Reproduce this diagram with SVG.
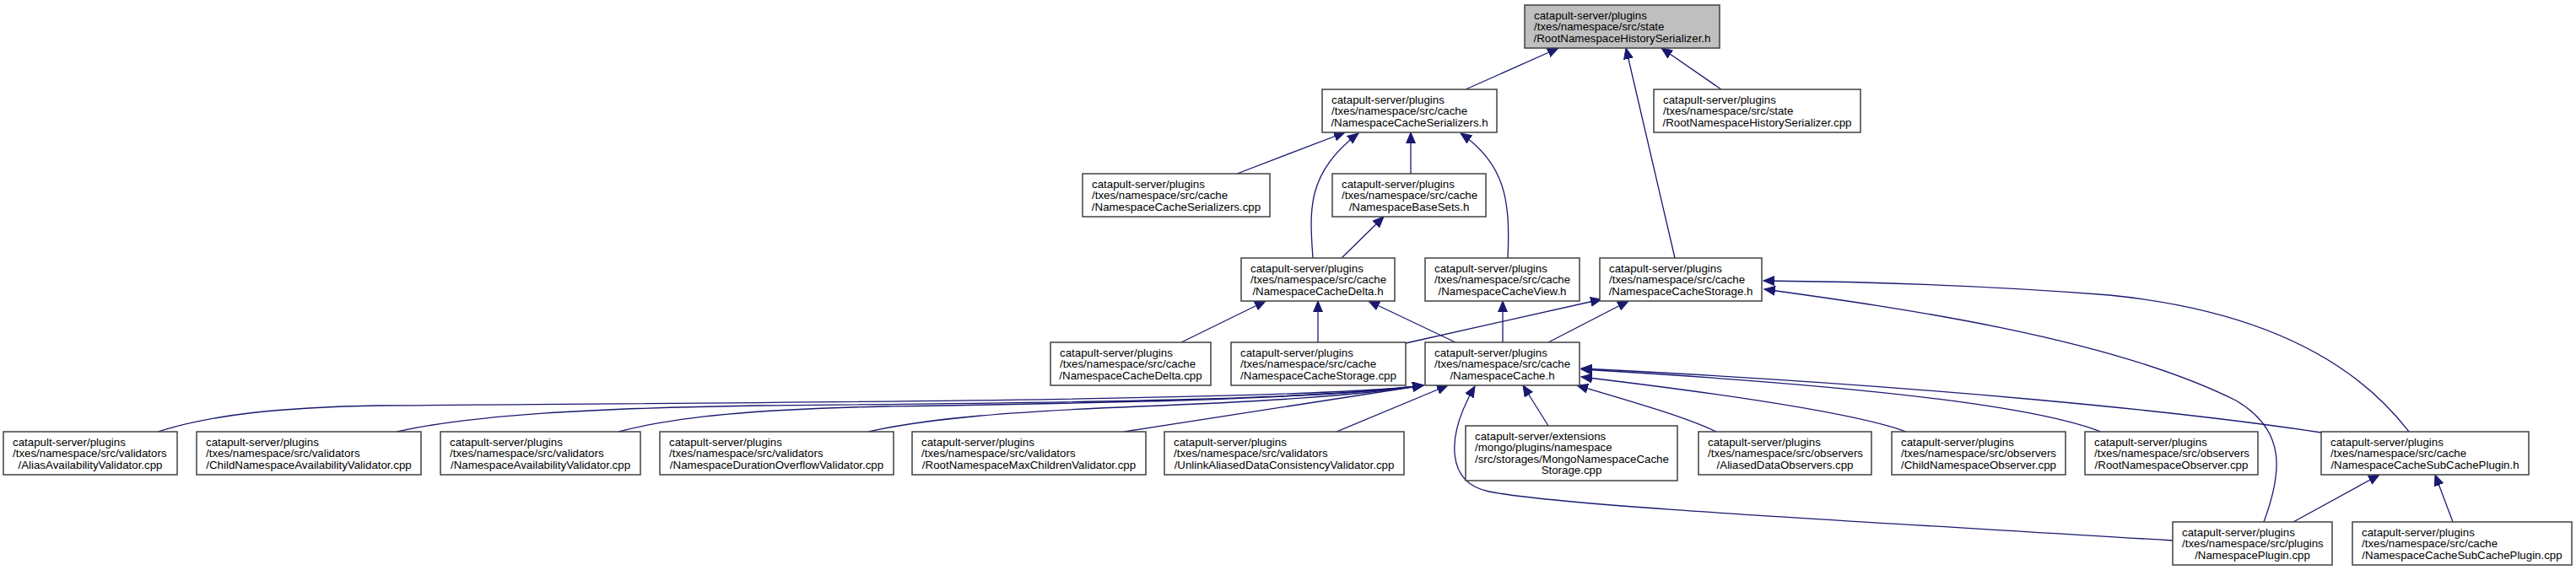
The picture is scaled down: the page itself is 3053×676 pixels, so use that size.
<svg xmlns="http://www.w3.org/2000/svg" width="3053" height="676" viewBox="0 0 3053 676">
<style>
.n rect{fill:#ffffff;stroke:#404040;stroke-width:1.5}
.n.root rect{fill:#bfbfbf}
text{font-family:"Liberation Sans",Arial,Helvetica,sans-serif;font-size:13.3px;fill:#000}
.m{text-anchor:middle}
.e path{fill:none;stroke:#191970;stroke-width:1.3;marker-end:url(#ah)}
</style>
<defs>
<marker id="ah" markerUnits="userSpaceOnUse" markerWidth="14" markerHeight="12" refX="13" refY="6" orient="auto">
<path d="M0,0.5 L13,6 L0,11.5 Z" fill="#191970" stroke="#191970" stroke-width="1"/>
</marker>
</defs>
<rect x="0" y="0" width="3053" height="676" fill="#ffffff"/>
<g id="edges" class="e">
<path d="M1737,106 L1847,57"/>
<path d="M1985,306 L1927,57"/>
<path d="M2040,106 L1969,57"/>
<path d="M1466,206 L1594,157"/>
<path d="M1556,306 C1552,250 1548,205 1610,158"/>
<path d="M1672,206 L1672,157"/>
<path d="M1787,306 C1790,240 1785,195 1731,158"/>
<path d="M1590,306 L1640,257"/>
<path d="M1400,406 L1500,357"/>
<path d="M1562,406 L1562,357"/>
<path d="M1725,406 L1622,357"/>
<path d="M1781,406 L1781,357"/>
<path d="M1666,407 L1898,355"/>
<path d="M1835,406 L1930,357"/>
<path d="M2855,512 C2800,440 2700,370 2500,350 C2350,338 2200,334 2090,333"/>
<path d="M2683,619 C2705,560 2710,510 2650,475 C2500,400 2250,365 2091,343"/>
<path d="M187,512 C250,492 330,483 450,481 C800,478 1550,476 1687,457"/>
<path d="M470,512 C560,492 700,484 900,481 C1200,478 1550,476 1687,457"/>
<path d="M733,512 C800,494 900,485 1050,482 C1300,478 1560,474 1687,457"/>
<path d="M1029,512 C1100,496 1200,488 1350,482 C1500,476 1600,470 1687,457"/>
<path d="M1332,512 L1687,457"/>
<path d="M1584,512 L1716,457"/>
<path d="M2575,641 C2200,618 1850,600 1765,583 C1715,573 1712,520 1748,458"/>
<path d="M1835,505 L1805,457"/>
<path d="M2034,512 C2000,495 1930,475 1869,457"/>
<path d="M2259,512 C2200,490 2050,468 1874,447"/>
<path d="M2490,512 C2420,485 2250,460 1874,438"/>
<path d="M2751,513 C2600,490 2300,458 1874,437"/>
<path d="M2718,619 L2820,563"/>
<path d="M2907,619 L2886,563"/>
</g>
<g id="n0" class="n root"><rect x="1807" y="6" width="231" height="51"/><text x="1818" y="22.5">catapult-server/plugins</text><text x="1818" y="36">/txes/namespace/src/state</text><text class="m" x="1922.5" y="49.5">/RootNamespaceHistorySerializer.h</text></g>
<g id="n1" class="n"><rect x="1567" y="106" width="207" height="51"/><text x="1578" y="122.5">catapult-server/plugins</text><text x="1578" y="136">/txes/namespace/src/cache</text><text class="m" x="1670.5" y="149.5">/NamespaceCacheSerializers.h</text></g>
<g id="n2" class="n"><rect x="1960" y="106" width="245" height="51"/><text x="1971" y="122.5">catapult-server/plugins</text><text x="1971" y="136">/txes/namespace/src/state</text><text class="m" x="2082.5" y="149.5">/RootNamespaceHistorySerializer.cpp</text></g>
<g id="n3" class="n"><rect x="1283" y="206" width="222" height="51"/><text x="1294" y="222.5">catapult-server/plugins</text><text x="1294" y="236">/txes/namespace/src/cache</text><text class="m" x="1394" y="249.5">/NamespaceCacheSerializers.cpp</text></g>
<g id="n4" class="n"><rect x="1579" y="206" width="182" height="51"/><text x="1590" y="222.5">catapult-server/plugins</text><text x="1590" y="236">/txes/namespace/src/cache</text><text class="m" x="1670" y="249.5">/NamespaceBaseSets.h</text></g>
<g id="n5" class="n"><rect x="1471" y="306" width="182" height="51"/><text x="1482" y="322.5">catapult-server/plugins</text><text x="1482" y="336">/txes/namespace/src/cache</text><text class="m" x="1562" y="349.5">/NamespaceCacheDelta.h</text></g>
<g id="n6" class="n"><rect x="1689" y="306" width="183" height="51"/><text x="1700" y="322.5">catapult-server/plugins</text><text x="1700" y="336">/txes/namespace/src/cache</text><text class="m" x="1780.5" y="349.5">/NamespaceCacheView.h</text></g>
<g id="n7" class="n"><rect x="1896" y="306" width="192" height="51"/><text x="1907" y="322.5">catapult-server/plugins</text><text x="1907" y="336">/txes/namespace/src/cache</text><text class="m" x="1992" y="349.5">/NamespaceCacheStorage.h</text></g>
<g id="n8" class="n"><rect x="1245" y="406" width="190" height="51"/><text x="1256" y="422.5">catapult-server/plugins</text><text x="1256" y="436">/txes/namespace/src/cache</text><text class="m" x="1340" y="449.5">/NamespaceCacheDelta.cpp</text></g>
<g id="n9" class="n"><rect x="1459" y="406" width="207" height="51"/><text x="1470" y="422.5">catapult-server/plugins</text><text x="1470" y="436">/txes/namespace/src/cache</text><text class="m" x="1562.5" y="449.5">/NamespaceCacheStorage.cpp</text></g>
<g id="n10" class="n"><rect x="1689" y="406" width="183" height="51"/><text x="1700" y="422.5">catapult-server/plugins</text><text x="1700" y="436">/txes/namespace/src/cache</text><text class="m" x="1780.5" y="449.5">/NamespaceCache.h</text></g>
<g id="n11" class="n"><rect x="4" y="512" width="206" height="51"/><text x="15" y="528.5">catapult-server/plugins</text><text x="15" y="542">/txes/namespace/src/validators</text><text class="m" x="107" y="555.5">/AliasAvailabilityValidator.cpp</text></g>
<g id="n12" class="n"><rect x="233" y="512" width="266" height="51"/><text x="244" y="528.5">catapult-server/plugins</text><text x="244" y="542">/txes/namespace/src/validators</text><text class="m" x="366" y="555.5">/ChildNamespaceAvailabilityValidator.cpp</text></g>
<g id="n13" class="n"><rect x="522" y="512" width="237" height="51"/><text x="533" y="528.5">catapult-server/plugins</text><text x="533" y="542">/txes/namespace/src/validators</text><text class="m" x="640.5" y="555.5">/NamespaceAvailabilityValidator.cpp</text></g>
<g id="n14" class="n"><rect x="782" y="512" width="277" height="51"/><text x="793" y="528.5">catapult-server/plugins</text><text x="793" y="542">/txes/namespace/src/validators</text><text class="m" x="920.5" y="555.5">/NamespaceDurationOverflowValidator.cpp</text></g>
<g id="n15" class="n"><rect x="1081" y="512" width="277" height="51"/><text x="1092" y="528.5">catapult-server/plugins</text><text x="1092" y="542">/txes/namespace/src/validators</text><text class="m" x="1219.5" y="555.5">/RootNamespaceMaxChildrenValidator.cpp</text></g>
<g id="n16" class="n"><rect x="1380" y="512" width="284" height="51"/><text x="1391" y="528.5">catapult-server/plugins</text><text x="1391" y="542">/txes/namespace/src/validators</text><text class="m" x="1522" y="555.5">/UnlinkAliasedDataConsistencyValidator.cpp</text></g>
<g id="n17" class="n"><rect x="1737" y="505" width="251" height="65"/><text x="1748" y="521.5">catapult-server/extensions</text><text x="1748" y="535">/mongo/plugins/namespace</text><text x="1748" y="548.5">/src/storages/MongoNamespaceCache</text><text class="m" x="1862.5" y="562">Storage.cpp</text></g>
<g id="n18" class="n"><rect x="2013" y="512" width="205" height="51"/><text x="2024" y="528.5">catapult-server/plugins</text><text x="2024" y="542">/txes/namespace/src/observers</text><text class="m" x="2115.5" y="555.5">/AliasedDataObservers.cpp</text></g>
<g id="n19" class="n"><rect x="2242" y="512" width="206" height="51"/><text x="2253" y="528.5">catapult-server/plugins</text><text x="2253" y="542">/txes/namespace/src/observers</text><text class="m" x="2345" y="555.5">/ChildNamespaceObserver.cpp</text></g>
<g id="n20" class="n"><rect x="2471" y="512" width="205" height="51"/><text x="2482" y="528.5">catapult-server/plugins</text><text x="2482" y="542">/txes/namespace/src/observers</text><text class="m" x="2573.5" y="555.5">/RootNamespaceObserver.cpp</text></g>
<g id="n21" class="n"><rect x="2751" y="512" width="246" height="51"/><text x="2762" y="528.5">catapult-server/plugins</text><text x="2762" y="542">/txes/namespace/src/cache</text><text class="m" x="2874" y="555.5">/NamespaceCacheSubCachePlugin.h</text></g>
<g id="n22" class="n"><rect x="2575" y="619" width="189" height="51"/><text x="2586" y="635.5">catapult-server/plugins</text><text x="2586" y="649">/txes/namespace/src/plugins</text><text class="m" x="2669.5" y="662.5">/NamespacePlugin.cpp</text></g>
<g id="n23" class="n"><rect x="2788" y="619" width="260" height="51"/><text x="2799" y="635.5">catapult-server/plugins</text><text x="2799" y="649">/txes/namespace/src/cache</text><text class="m" x="2918" y="662.5">/NamespaceCacheSubCachePlugin.cpp</text></g>
</svg>
